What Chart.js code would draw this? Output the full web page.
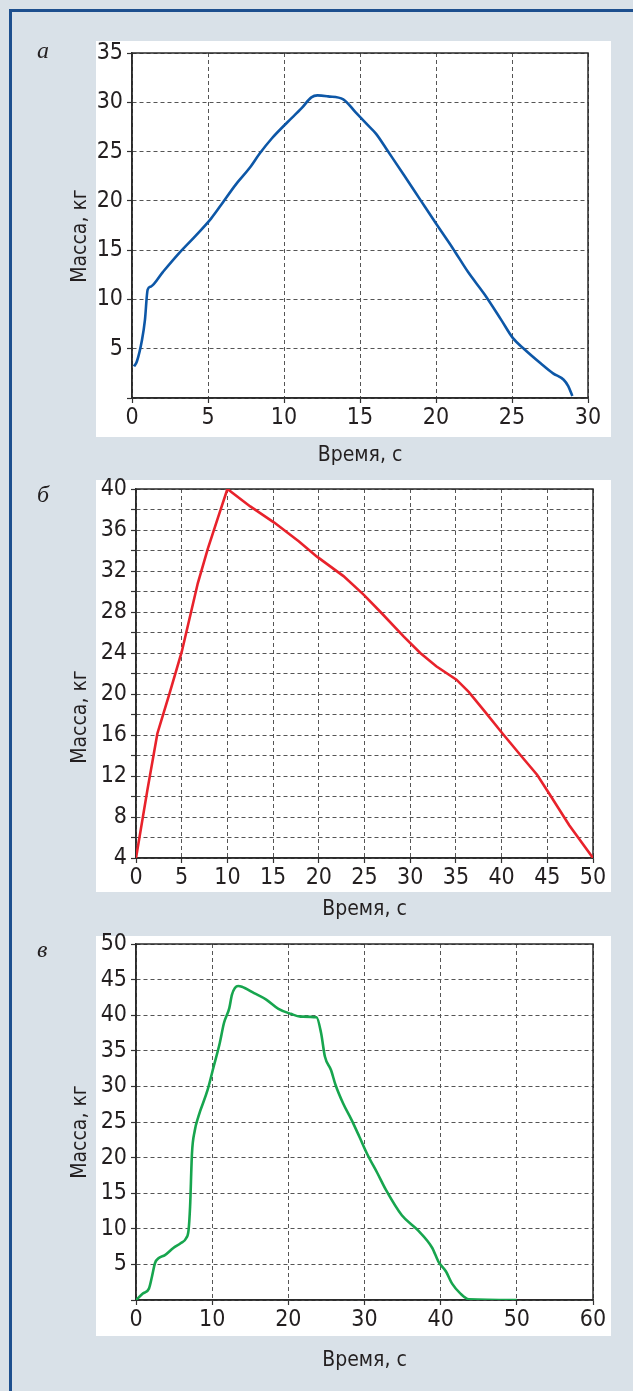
<!DOCTYPE html>
<html lang="ru">
<head>
<meta charset="utf-8">
<title>Масса — время</title>
<script src="https://cdn.jsdelivr.net/npm/chart.js@4.4.1/dist/chart.umd.min.js"></script>
<style>
  html, body { margin: 0; padding: 0; }
  body { width: 633px; height: 1391px; background: #d9e1e8; position: relative; overflow: hidden; }
  .frame { position: absolute; left: 9px; top: 9px; right: 0; bottom: 0; border-left: 3px solid #1d4f8e; border-top: 3px solid #1d4f8e; }
  .box { position: absolute; left: 96px; width: 515px; background: #fff; }
  canvas { position: absolute; left: 20px; }
</style>
</head>
<body>
<div class="frame"></div>
<div class="box" style="top:41px;height:396px"></div>
<div class="box" style="top:480px;height:412px"></div>
<div class="box" style="top:936px;height:400px"></div>
<canvas id="grA" width="600" height="450" style="top:26px"></canvas>
<canvas id="grB" width="600" height="460" style="top:465px"></canvas>
<canvas id="grC" width="600" height="460" style="top:920px"></canvas>
<script>
// Панель а
const timeA = [0.13, 0.32, 0.66, 0.85, 1.03, 1.24, 2.04, 3.1, 4.15, 5.2, 5.87, 6.8, 7.72, 8.4, 9.18, 10.24, 11.16, 11.8, 12.2, 12.9, 13.9, 14.7, 15.5, 16.06, 16.85, 17.9, 18.97, 20.0, 21.1, 22.1, 23.2, 24.3, 25.05, 25.85, 26.9, 27.7, 28.4, 28.7, 28.97];
const massA = [3.2, 3.7, 5.9, 7.9, 11.0, 11.3, 12.8, 14.7, 16.4, 18.2, 19.6, 21.6, 23.3, 24.8, 26.3, 28.0, 29.4, 30.5, 30.7, 30.6, 30.3, 29.0, 27.7, 26.8, 25.0, 22.6, 20.1, 17.7, 15.2, 12.8, 10.5, 7.9, 6.1, 4.9, 3.5, 2.5, 1.85, 1.2, 0.2];
const xTicksA = [0, 5, 10, 15, 20, 25, 30];
const yTicksA = [0, 5, 10, 15, 20, 25, 30, 35];
const yLabelsA = [5, 10, 15, 20, 25, 30, 35];

// Панель б
const timeB = [0, 1.24, 2.34, 3.67, 5.0, 6.76, 7.87, 8.97, 10, 12.5, 15.16, 17.8, 19.8, 22.7, 24.9, 26.7, 29.3, 31.1, 32.85, 35.06, 36.4, 38.15, 40.1, 42.1, 43.9, 45.2, 47.4, 50];
const massB = [4, 10.6, 16.15, 20.06, 24.1, 30.8, 34.2, 37.2, 40, 38.3, 36.7, 34.9, 33.4, 31.5, 29.7, 28.05, 25.6, 24.0, 22.7, 21.4, 20.2, 18.3, 16.15, 14.0, 12.1, 10.3, 7.2, 4];
const xTicksB = [0, 5, 10, 15, 20, 25, 30, 35, 40, 45, 50];
const yTicksB = [4, 6, 8, 10, 12, 14, 16, 18, 20, 22, 24, 26, 28, 30, 32, 34, 36, 38, 40];
const yLabelsB = [4, 8, 12, 16, 20, 24, 28, 32, 36, 40];

// Панель в
const timeC = [0, 0.9, 1.7, 2.1, 2.5, 3.0, 3.8, 4.9, 5.9, 6.6, 6.9, 7.1, 7.35, 7.7, 8.2, 9.4, 10.2, 11.0, 11.55, 12.25, 12.6, 13.4, 13.9, 15.5, 17.1, 18.7, 20.3, 21.6, 23.7, 24.3, 24.8, 25.6, 26.2, 27.2, 28.3, 29.3, 30.4, 31.7, 32.8, 34.9, 37.0, 38.9, 39.7, 40.7, 41.5, 42.6, 43.7, 50];
const massC = [0, 0.9, 1.6, 3.3, 5.2, 5.9, 6.3, 7.3, 8.0, 8.7, 9.8, 13.1, 20.6, 23.7, 25.8, 29.5, 32.8, 36.1, 38.9, 41.0, 42.9, 44.1, 44.0, 43.1, 42.2, 40.9, 40.2, 39.8, 39.7, 37.5, 34.2, 32.3, 30.2, 27.6, 25.3, 23.0, 20.4, 17.8, 15.5, 11.9, 9.8, 7.3, 5.4, 4.0, 2.3, 0.9, 0.1, 0];
const xTicksC = [0, 10, 20, 30, 40, 50, 60];
const yTicksC = [0, 5, 10, 15, 20, 25, 30, 35, 40, 45, 50];
const yLabelsC = [5, 10, 15, 20, 25, 30, 35, 40, 45, 50];

const NARROW = "'Liberation Sans Narrow', 'Arial Narrow', 'DejaVu Sans Condensed', Roboto, sans-serif";
const INK = '#231f20';

// буква панели и подпись оси Y (сдвинута относительно центра, как в оригинале)
const panelText = {
  id: 'panelText',
  afterDraw(chart, args, o) {
    const ctx = chart.ctx;
    ctx.save();
    ctx.fillStyle = INK;
    ctx.font = 'italic 24px "Liberation Serif", "DejaVu Serif", serif';
    ctx.textAlign = 'left';
    ctx.textBaseline = 'alphabetic';
    ctx.fillText(o.letter, o.letterX, o.letterY);
    ctx.font = '21px ' + NARROW;
    ctx.translate(o.titleX, o.titleY);
    ctx.rotate(-Math.PI / 2);
    ctx.textAlign = 'center';
    ctx.textBaseline = 'middle';
    ctx.fillText(o.yTitle, 0, 0);
    ctx.restore();
  }
};

// рамка вокруг поля графика
const plotFrame = {
  id: 'plotFrame',
  beforeDatasetsDraw(chart) {
    const { ctx, chartArea: a } = chart;
    ctx.save();
    ctx.strokeStyle = '#2a2a2a';
    ctx.lineWidth = 1.5;
    ctx.strokeRect(a.left, a.top, a.right - a.left, a.bottom - a.top);
    ctx.restore();
  }
};

function axis(ticks, labels, isX, fixed, titlePad) {
  const s = {
    type: 'linear',
    min: ticks[0],
    max: ticks[ticks.length - 1],
    afterBuildTicks: sc => { sc.ticks = ticks.map(v => ({ value: v })); },
    afterFit: sc => { if (isX) sc.height = fixed; else sc.width = fixed; },
    ticks: {
      autoSkip: false,
      maxRotation: 0,
      padding: isX ? 1 : 4,
      color: INK,
      font: { family: NARROW, size: 23 },
      callback: v => labels.includes(v) ? String(v) : ''
    },
    grid: { color: '#555', lineWidth: 1, tickLength: 5, tickColor: '#333', tickWidth: 1.2 },
    border: { dash: [4, 3], color: '#333', width: 1.5 }
  };
  if (isX) {
    s.title = {
      display: true,
      text: 'Время, с',
      color: INK,
      font: { family: NARROW, size: 21 },
      padding: { top: 0, bottom: titlePad }
    };
  }
  return s;
}

function makeChart(id, times, mass, color, smooth, sc, txt) {
  new Chart(document.getElementById(id), {
    type: 'line',
    data: {
      datasets: [{
        data: times.map((t, i) => ({ x: t, y: mass[i] })),
        borderColor: color,
        borderWidth: 2.6,
        pointRadius: 0,
        tension: 0,
        cubicInterpolationMode: smooth ? 'monotone' : 'default',
        fill: false
      }]
    },
    options: {
      responsive: false,
      animation: false,
      layout: { padding: { left: 0, top: sc.top, right: sc.right, bottom: 0 } },
      scales: {
        x: axis(sc.xTicks, sc.xTicks, true, sc.xHeight, sc.titlePad),
        y: axis(sc.yTicks, sc.yLabels, false, sc.yWidth)
      },
      plugins: {
        legend: { display: false },
        tooltip: { enabled: false },
        panelText: txt
      }
    },
    plugins: [plotFrame, panelText]
  });
}

makeChart('grA', timeA, massA, '#0d57a7', true,
  { xTicks: xTicksA, yTicks: yTicksA, yLabels: yLabelsA, top: 27, right: 32, xHeight: 78, yWidth: 112, titlePad: 8 },
  { letter: 'а', letterX: 17, letterY: 32, yTitle: 'Масса, кг', titleX: 61, titleY: 210 });

makeChart('grB', timeB, massB, '#e8222b', false,
  { xTicks: xTicksB, yTicks: yTicksB, yLabels: yLabelsB, top: 24, right: 27, xHeight: 67, yWidth: 116, titlePad: 3 },
  { letter: 'б', letterX: 17, letterY: 37, yTitle: 'Масса, кг', titleX: 61, titleY: 252 });

makeChart('grC', timeC, massC, '#17a54e', true,
  { xTicks: xTicksC, yTicks: yTicksC, yLabels: yLabelsC, top: 24, right: 27, xHeight: 80, yWidth: 116, titlePad: 7 },
  { letter: 'в', letterX: 17, letterY: 37, yTitle: 'Масса, кг', titleX: 61, titleY: 212 });
</script>
</body>
</html>
